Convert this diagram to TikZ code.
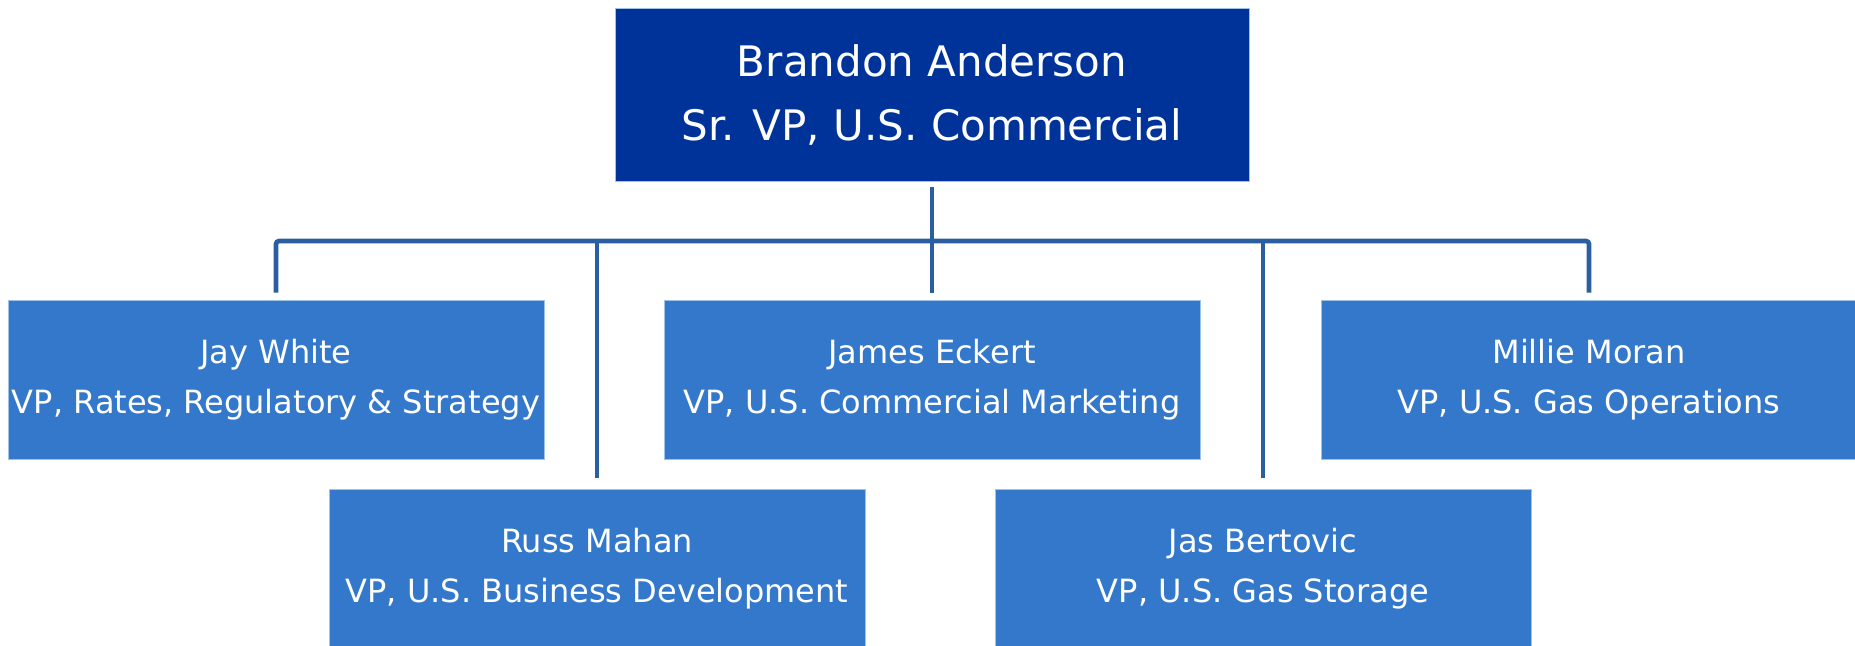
\documentclass[tikz,border=0pt]{standalone}
\usepackage{fontspec}
\setmainfont{DejaVu Sans}
\definecolor{topblue}{RGB}{0,51,153}
\definecolor{boxblue}{RGB}{52,120,204}
\definecolor{edgeblue}{RGB}{157,195,230}
\definecolor{linkblue}{RGB}{42,94,160}
\begin{document}
\begin{tikzpicture}[x=0.5pt,y=-0.5pt,
  headbox/.style={rectangle, fill=topblue, draw=edgeblue, line width=0.3pt,
    minimum width=317pt, minimum height=86.5pt, inner sep=0pt, align=center,
    text=white, font=\fontsize{21}{32}\selectfont},
  vpbox/.style={rectangle, fill=boxblue, draw=edgeblue, line width=0.3pt,
    minimum width=268pt, minimum height=79.5pt, inner sep=0pt, align=center,
    text=white, font=\fontsize{16}{25}\selectfont},
  conn/.style={draw=linkblue, line width=2.3pt}]
\useasboundingbox (0,0) rectangle (1855,645);
\node[headbox] (top) at (932,94.5) {Brandon Anderson\\Sr. VP, U.S. Commercial};
\node[vpbox] (jay) at (276,379.5) {Jay White\\VP, Rates, Regulatory \& Strategy};
\node[vpbox] (james) at (932,379.5) {James Eckert\\VP, U.S. Commercial Marketing};
\node[vpbox] (millie) at (1589,379.5) {Millie Moran\\VP, U.S. Gas Operations};
\node[vpbox] (russ) at (597,568.5) {Russ Mahan\\VP, U.S. Business Development};
\node[vpbox] (jas) at (1263,568.5) {Jas Bertovic\\VP, U.S. Gas Storage};
\coordinate (bus) at (932,241);
\draw[conn, shorten <=3pt, shorten >=3.5pt] (top.south) -- (james.north);
\draw[conn, rounded corners=1.5pt, shorten <=3.5pt, shorten >=3.5pt]
  (jay.north) -- (jay.north |- bus) -- (millie.north |- bus) -- (millie.north);
\draw[conn, shorten >=5.5pt] (russ.north |- bus) -- (russ.north);
\draw[conn, shorten >=5.5pt] (jas.north |- bus) -- (jas.north);
\end{tikzpicture}
\end{document}
